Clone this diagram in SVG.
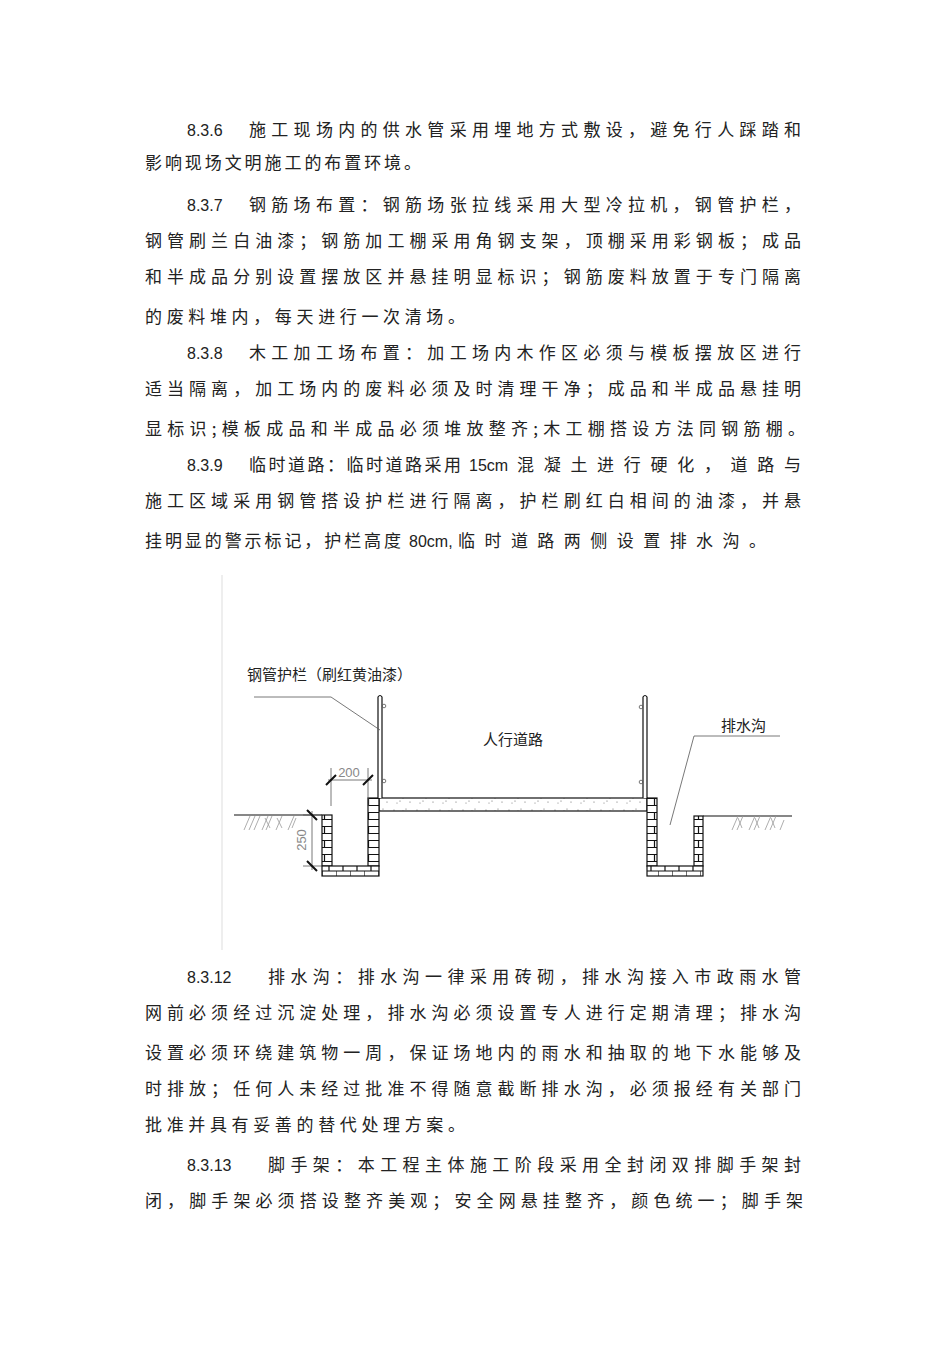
<svg xmlns="http://www.w3.org/2000/svg" width="950" height="1345" viewBox="0 0 950 1345">
<defs>
<style>
.t{font-family:"Noto Sans CJK SC","Liberation Sans",sans-serif;font-size:17px;fill:#222}
.n{font-family:"Liberation Sans","Noto Sans CJK SC",sans-serif;font-size:16px;fill:#222}
.l{font-family:"Noto Sans CJK SC",sans-serif;font-size:15px;fill:#222}
.s{stroke:#111;stroke-width:1.2}
.th{stroke:#555;stroke-width:0.8;fill:none}
.h{stroke:#999;stroke-width:0.8;fill:none}
</style>
<pattern id="bv" width="11" height="14" patternUnits="userSpaceOnUse">
<rect width="11" height="14" fill="#fff"/>
<path d="M0 0.5H11M0 7.5H11M5.5 0V7" stroke="#111" stroke-width="1.2"/>
</pattern>
<pattern id="bh" width="14" height="10" patternUnits="userSpaceOnUse" x="322" y="866">
<rect width="14" height="10" fill="#fff"/>
<path d="M0 5H14M7 0V5M0 5V10" stroke="#111" stroke-width="1.2"/>
</pattern>
<pattern id="sp" width="23" height="13" patternUnits="userSpaceOnUse">
<rect width="23" height="13" fill="#fff"/>
<g fill="#666"><circle cx="3" cy="4" r="0.6"/><circle cx="9" cy="8" r="0.6"/><circle cx="15" cy="3" r="0.6"/><circle cx="19" cy="9" r="0.6"/><circle cx="6" cy="10" r="0.5"/><circle cx="12" cy="5" r="0.5"/></g>
</pattern>
</defs>
<rect width="950" height="1345" fill="#fff"/>
<g id="text">
<text class="n" x="187" y="136">8.3.6</text>
<text class="t" x="249" y="136" textLength="552" lengthAdjust="spacing">施工现场内的供水管采用埋地方式敷设，避免行人踩踏和</text>
<text class="t" x="145" y="169" textLength="276" lengthAdjust="spacing">影响现场文明施工的布置环境。</text>
<text class="n" x="187" y="211">8.3.7</text>
<text class="t" x="249" y="211" textLength="552" lengthAdjust="spacing">钢筋场布置：钢筋场张拉线采用大型冷拉机，钢管护栏，</text>
<text class="t" x="145" y="247" textLength="656" lengthAdjust="spacing">钢管刷兰白油漆；钢筋加工棚采用角钢支架，顶棚采用彩钢板；成品</text>
<text class="t" x="145" y="283" textLength="656" lengthAdjust="spacing">和半成品分别设置摆放区并悬挂明显标识；钢筋废料放置于专门隔离</text>
<text class="t" x="145" y="323" textLength="320" lengthAdjust="spacing">的废料堆内，每天进行一次清场。</text>
<text class="n" x="187" y="359">8.3.8</text>
<text class="t" x="249" y="359" textLength="552" lengthAdjust="spacing">木工加工场布置：加工场内木作区必须与模板摆放区进行</text>
<text class="t" x="145" y="395" textLength="656" lengthAdjust="spacing">适当隔离，加工场内的废料必须及时清理干净；成品和半成品悬挂明</text>
<text class="t" x="145" y="435" textLength="660" lengthAdjust="spacing">显标识;模板成品和半成品必须堆放整齐;木工棚搭设方法同钢筋棚。</text>
<text class="n" x="187" y="471">8.3.9</text>
<text class="t" x="249" y="471" textLength="212" lengthAdjust="spacing">临时道路：临时道路采用</text>
<text class="n" x="469" y="471">15cm</text>
<text class="t" x="517" y="471" textLength="284" lengthAdjust="spacing">混凝土进行硬化，道路与</text>
<text class="t" x="145" y="507" textLength="656" lengthAdjust="spacing">施工区域采用钢管搭设护栏进行隔离，护栏刷红白相间的油漆，并悬</text>
<text class="t" x="145" y="547" textLength="256" lengthAdjust="spacing">挂明显的警示标记，护栏高度</text>
<text class="n" x="409" y="547">80cm,</text>
<text class="t" x="458" y="547" textLength="308" lengthAdjust="spacing">临时道路两侧设置排水沟。</text>
<text class="n" x="187" y="983">8.3.12</text>
<text class="t" x="268" y="983" textLength="533" lengthAdjust="spacing">排水沟：排水沟一律采用砖砌，排水沟接入市政雨水管</text>
<text class="t" x="145" y="1019" textLength="656" lengthAdjust="spacing">网前必须经过沉淀处理，排水沟必须设置专人进行定期清理；排水沟</text>
<text class="t" x="145" y="1059" textLength="656" lengthAdjust="spacing">设置必须环绕建筑物一周，保证场地内的雨水和抽取的地下水能够及</text>
<text class="t" x="145" y="1095" textLength="656" lengthAdjust="spacing">时排放；任何人未经过批准不得随意截断排水沟，必须报经有关部门</text>
<text class="t" x="145" y="1131" textLength="320" lengthAdjust="spacing">批准并具有妥善的替代处理方案。</text>
<text class="n" x="187" y="1171">8.3.13</text>
<text class="t" x="268" y="1171" textLength="533" lengthAdjust="spacing">脚手架：本工程主体施工阶段采用全封闭双排脚手架封</text>
<text class="t" x="145" y="1207" textLength="658" lengthAdjust="spacing">闭，脚手架必须搭设整齐美观；安全网悬挂整齐，颜色统一；脚手架</text>
</g>
<line x1="222" y1="575" x2="222" y2="950" stroke="#ddd" stroke-width="1"/>
<g id="slab"><rect x="379" y="798" width="268" height="13" fill="url(#sp)" class="s"/></g>
<g id="left-trench">
<rect x="322" y="815" width="10" height="51" fill="url(#bv)" class="s"/>
<rect x="368" y="798" width="11" height="68" fill="url(#bv)" class="s"/>
<rect x="322" y="866" width="57" height="10" fill="url(#bh)" class="s"/>
</g>
<g id="right-trench">
<rect x="647" y="798" width="10" height="68" fill="url(#bv)" class="s"/>
<rect x="694" y="816" width="9" height="50" fill="url(#bv)" class="s"/>
<rect x="647" y="866" width="56" height="10" fill="url(#bh)" class="s"/>
</g>
<g id="posts">
<path d="M378 798V697Q380 694 382 697V798" class="s" fill="#fff"/>
<circle cx="384" cy="706" r="1.8" class="th"/><circle cx="384" cy="781" r="1.8" class="th"/>
<path d="M643 798V697Q645 694 647 697V798" class="s" fill="#fff"/>
<circle cx="641" cy="707" r="1.8" class="th"/><circle cx="641" cy="782" r="1.8" class="th"/>
</g>
<g id="ground">
<line x1="234" y1="815" x2="322" y2="815" class="s"/>
<line x1="703" y1="816" x2="792" y2="816" class="s"/>
<path d="M244 830l6-14M249 830l6-14M254 830l6-14M262 830l6-14M266 830l6-14M270 828l-5-10M276 830l6-14M282 828l-5-10M288 830l6-14M292 828l4-10" class="h"/>
<path d="M732 830l6-14M737 830l6-14M742 828l-4-10M749 830l6-14M754 830l6-14M759 828l-4-10M765 830l6-14M770 830l6-14M775 828l-4-10M780 830l4-10" class="h"/>
</g>
<g id="dims">
<line x1="331" y1="768" x2="331" y2="806" class="th"/>
<line x1="368" y1="768" x2="368" y2="806" class="th"/>
<line x1="328" y1="780" x2="372" y2="780" class="th"/>
<path d="M326 785l10-10M363 785l10-10" stroke="#111" stroke-width="2"/>
<text x="349" y="777" text-anchor="middle" font-family="Liberation Sans,sans-serif" font-size="13" fill="#888">200</text>
<line x1="303" y1="815" x2="322" y2="815" class="th"/>
<line x1="303" y1="866" x2="322" y2="866" class="th"/>
<line x1="312" y1="811" x2="312" y2="870" class="th"/>
<path d="M307 810l10 10M307 861l10 10" stroke="#111" stroke-width="2"/>
<text x="0" y="0" transform="translate(306 840) rotate(-90)" text-anchor="middle" font-family="Liberation Sans,sans-serif" font-size="13" fill="#888">250</text>
</g>
<g id="labels">
<text class="l" x="247" y="680">钢管护栏（刷红黄油漆）</text>
<path d="M254 697H331L380 730" class="th"/>
<text class="l" x="483" y="745">人行道路</text>
<text class="l" x="721" y="731">排水沟</text>
<path d="M780 736H694L670 825" class="th"/>
</g>
</svg>
